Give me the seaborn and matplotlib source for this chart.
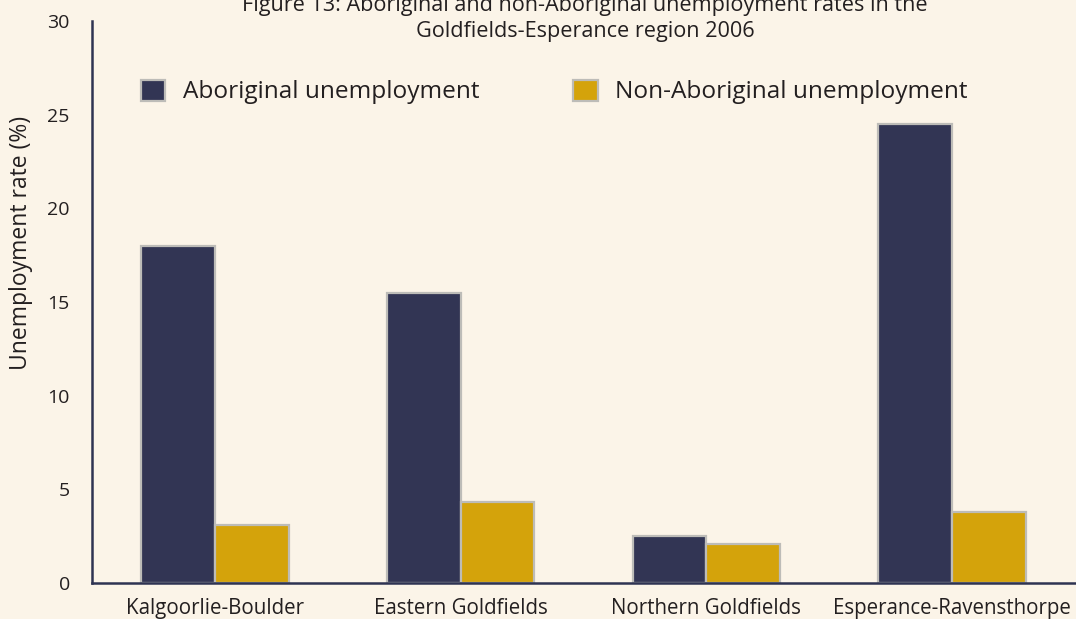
import matplotlib
matplotlib.use("Agg")
import matplotlib.pyplot as plt
import seaborn as sns
import pandas as pd
from matplotlib.ticker import FixedLocator
from matplotlib.patches import Patch

categories = ["Kalgoorlie-Boulder", "Eastern Goldfields", "Northern Goldfields", "Esperance-Ravensthorpe"]
aboriginal = [18.0, 15.5, 2.5, 24.5]
non_aboriginal = [3.1, 4.3, 2.1, 3.8]
series = ["Aboriginal unemployment", "Non-Aboriginal unemployment"]
yticks = [0, 5, 10, 15, 20, 25, 30]

df = pd.DataFrame({
    "region": categories * 2,
    "series": [series[0]] * 4 + [series[1]] * 4,
    "rate": aboriginal + non_aboriginal,
})

bg = "#fbf4e8"
navy = "#323554"
gold = "#d4a30b"
axis_col = "#2e3352"
txt = "#231f20"
edge = "#bdbcb8"

sns.set_style("white")
plt.rcParams["font.family"] = ["Open Sans", "DejaVu Sans"]

fig = plt.figure(figsize=(10.76, 6.19), dpi=100, facecolor=bg)
ax = fig.add_axes([92/1076, 36/619, 983/1076, 562/619])
ax.set_facecolor(bg)

sns.barplot(data=df, x="region", y="rate", hue="series", order=categories,
            hue_order=series, palette=[navy, gold], width=0.6, gap=0,
            edgecolor=edge, linewidth=1.6, saturation=1, ax=ax, legend=False)

ax.set_xlim(-0.5, 3.5)
ax.set_ylim(0, 30)
ax.set_yticks(yticks)
ax.set_yticklabels([str(v) for v in yticks], fontsize=14, color=txt)
ax.set_xticks(range(4))
ax.set_xticklabels(categories, fontsize=14.8, color=txt)
ax.xaxis.set_minor_locator(FixedLocator([-0.5, 0.5, 1.5, 2.5, 3.5]))
ax.tick_params(axis="x", which="major", length=0, pad=11)
ax.tick_params(axis="x", which="minor", length=8, width=1.5, color=axis_col, direction="out")
ax.tick_params(axis="y", length=7, width=1.5, color=axis_col, direction="out", pad=9)
ax.set_xlabel("")
ax.set_ylabel("Unemployment rate (%)", fontsize=16.5, color=txt)
ax.yaxis.set_label_coords(-0.060, 0.605)

for s in ["top", "right"]:
    ax.spines[s].set_visible(False)
for s in ["left", "bottom"]:
    ax.spines[s].set_color(axis_col)
    ax.spines[s].set_linewidth(1.8)

handles = [Patch(facecolor=navy, edgecolor=edge, linewidth=1.6),
           Patch(facecolor=gold, edgecolor=edge, linewidth=1.6)]
fig.legend(handles, series, loc="center left", bbox_to_anchor=(141/1076, 1 - 92/619),
           ncol=2, frameon=False, fontsize=17.6, borderpad=0, borderaxespad=0,
           handlelength=1.0, handleheight=0.95, handletextpad=0.7, columnspacing=3.85,
           labelcolor=txt)

fig.text(585/1076, 1 - 5/619, "Figure 13: Aboriginal and non-Aboriginal unemployment rates in the",
         ha="center", va="center", fontsize=15.6, color=txt)
fig.text(585/1076, 1 - 32/619, "Goldfields-Esperance region 2006",
         ha="center", va="center", fontsize=15.6, color=txt)

fig.savefig("out.png", dpi=100, facecolor=bg)
